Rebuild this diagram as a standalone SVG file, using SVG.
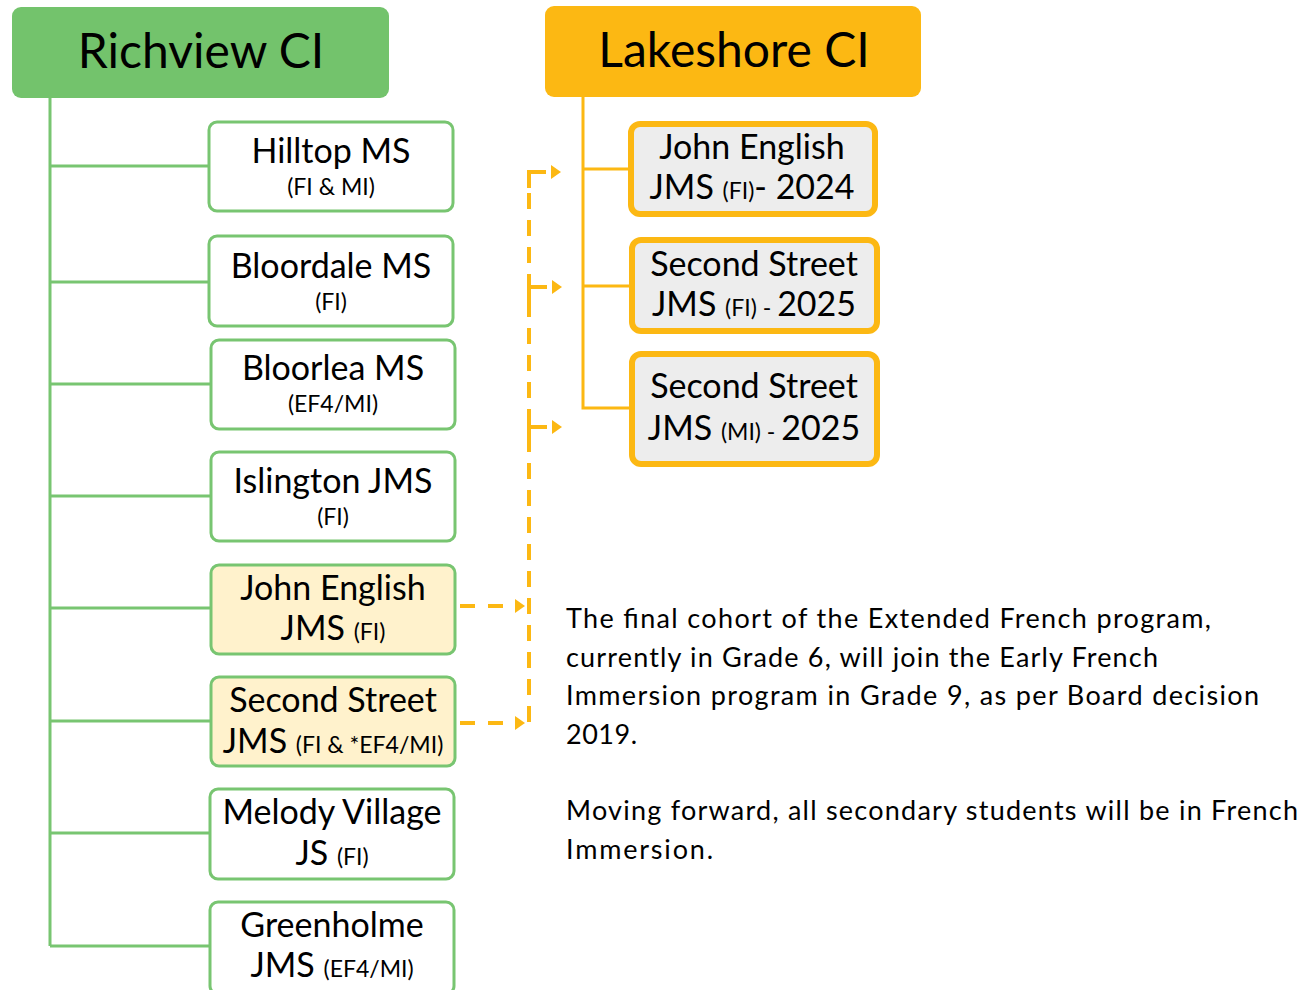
<svg xmlns="http://www.w3.org/2000/svg" width="1314" height="990" viewBox="0 0 1314 990">
<defs>
<style>
text{font-family:Lato,"Liberation Sans",sans-serif;fill:#000;text-anchor:middle}
.head{font-size:48px}
.nm{font-size:34px}
.sm{font-size:23px}
.gbox{fill:#fff;stroke:#78C571;stroke-width:3}
.ybox{fill:#FFF2CC;stroke:#78C571;stroke-width:3}
.obox{fill:#EDEDED;stroke:#FCB813;stroke-width:6}
.gl{stroke:#78C571;stroke-width:3;fill:none}
.ol{stroke:#FCB813;stroke-width:3;fill:none}
.el{stroke:#FCB813;stroke-width:4;fill:none}
.dl{stroke:#FCB813;stroke-width:4;fill:none;stroke-dasharray:16 11}
.dh{stroke:#FCB813;stroke-width:4;fill:none;stroke-dasharray:15 13}
.ah{fill:#FCB813}
.para{font-size:27px;text-anchor:start}
</style>
<marker id="arr" viewBox="0 0 10 14" refX="0" refY="7" markerWidth="10" markerHeight="14" markerUnits="userSpaceOnUse" orient="auto">
<path d="M0,0 L10,7 L0,14 Z" fill="#FCB813"/>
</marker>
</defs>
<rect width="1314" height="990" fill="#fff"/>
<g id="connectors">
<path class="gl" d="M50,98 V946 M50,166 H209 M50,282 H209 M50,384 H211 M50,496 H211 M50,608 H211 M50,721 H211 M50,833 H210 M50,946 H210"/>
<path class="ol" d="M583,97 V408 H630 M583,169 H630 M583,286 H630"/>
<path class="dl" d="M529,722 V172"/>
<path class="el" d="M529,188 V172 H546"/>
<path class="el" d="M529,302 V287 H547"/>
<path class="el" d="M529,442 V427 H547"/>
<path class="ah" d="M551,165 L561,172 L551,179 Z"/>
<path class="ah" d="M552,280 L562,287 L552,294 Z"/>
<path class="ah" d="M552,420 L562,427 L552,434 Z"/>
<path class="dh" d="M460,606 H515" marker-end="url(#arr)"/>
<path class="dh" d="M460,723 H515" marker-end="url(#arr)"/>
</g>
<g id="richview">
<rect x="12" y="7" width="377" height="91" rx="9" fill="#73C36C"/>
<text class="head" x="201" y="68">Richview CI</text>
</g>
<g id="lakeshore">
<rect x="545" y="6" width="376" height="91" rx="9" fill="#FCB813"/>
<text class="head" x="734" y="67">Lakeshore CI</text>
</g>
<g id="hilltop">
<rect class="gbox" x="209" y="122" width="244" height="89" rx="8"/>
<text class="nm" x="331" y="163">Hilltop MS</text>
<text class="sm" x="331" y="195">(FI &amp; MI)</text>
</g>
<g id="bloordale">
<rect class="gbox" x="209" y="236" width="244" height="90" rx="8"/>
<text class="nm" x="331" y="278">Bloordale MS</text>
<text class="sm" x="331" y="310">(FI)</text>
</g>
<g id="bloorlea">
<rect class="gbox" x="211" y="340" width="244" height="89" rx="8"/>
<text class="nm" x="333" y="380">Bloorlea MS</text>
<text class="sm" x="333" y="412">(EF4/MI)</text>
</g>
<g id="islington">
<rect class="gbox" x="211" y="452" width="244" height="89" rx="8"/>
<text class="nm" x="333" y="493">Islington JMS</text>
<text class="sm" x="333" y="525">(FI)</text>
</g>
<g id="johnenglish">
<rect class="ybox" x="211" y="565" width="244" height="89" rx="8"/>
<text class="nm" x="333" y="600">John English</text>
<text x="333" y="640"><tspan class="nm">JMS </tspan><tspan class="sm">(FI)</tspan></text>
</g>
<g id="secondstreet">
<rect class="ybox" x="211" y="677" width="244" height="89" rx="8"/>
<text class="nm" x="333" y="712">Second Street</text>
<text x="333" y="753"><tspan class="nm">JMS </tspan><tspan class="sm">(FI &amp; *EF4/MI)</tspan></text>
</g>
<g id="melody">
<rect class="gbox" x="210" y="789" width="244" height="90" rx="8"/>
<text class="nm" x="332" y="824">Melody Village</text>
<text x="332" y="865"><tspan class="nm">JS </tspan><tspan class="sm">(FI)</tspan></text>
</g>
<g id="greenholme">
<rect class="gbox" x="210" y="902" width="244" height="92" rx="8"/>
<text class="nm" x="332" y="937">Greenholme</text>
<text x="332" y="977"><tspan class="nm">JMS </tspan><tspan class="sm">(EF4/MI)</tspan></text>
</g>
<g id="lk-johnenglish">
<rect class="obox" x="631" y="124" width="244" height="90" rx="9"/>
<text class="nm" x="752" y="159">John English</text>
<text x="752" y="199"><tspan class="nm">JMS </tspan><tspan class="sm">(FI)</tspan><tspan class="nm">-  2024</tspan></text>
</g>
<g id="lk-second-fi">
<rect class="obox" x="632" y="240" width="245" height="91" rx="9"/>
<text class="nm" x="754" y="276">Second Street</text>
<text x="754" y="316"><tspan class="nm">JMS </tspan><tspan class="sm">(FI)  - </tspan><tspan class="nm">2025</tspan></text>
</g>
<g id="lk-second-mi">
<rect class="obox" x="632" y="354" width="245" height="110" rx="9"/>
<text class="nm" x="754" y="398">Second Street</text>
<text x="754" y="440"><tspan class="nm">JMS </tspan><tspan class="sm">(MI) - </tspan><tspan class="nm">2025</tspan></text>
</g>
<g id="note">
<text class="para" x="566" y="628" textLength="645">The final cohort of the Extended French program,</text>
<text class="para" x="566" y="667" textLength="592">currently in Grade 6, will join the Early French</text>
<text class="para" x="566" y="705" textLength="693">Immersion program in Grade 9, as per Board decision</text>
<text class="para" x="566" y="744" textLength="71">2019.</text>
<text class="para" x="566" y="820" textLength="732">Moving forward, all secondary students will be in French</text>
<text class="para" x="566" y="859" textLength="147">Immersion.</text>
</g>
</svg>
